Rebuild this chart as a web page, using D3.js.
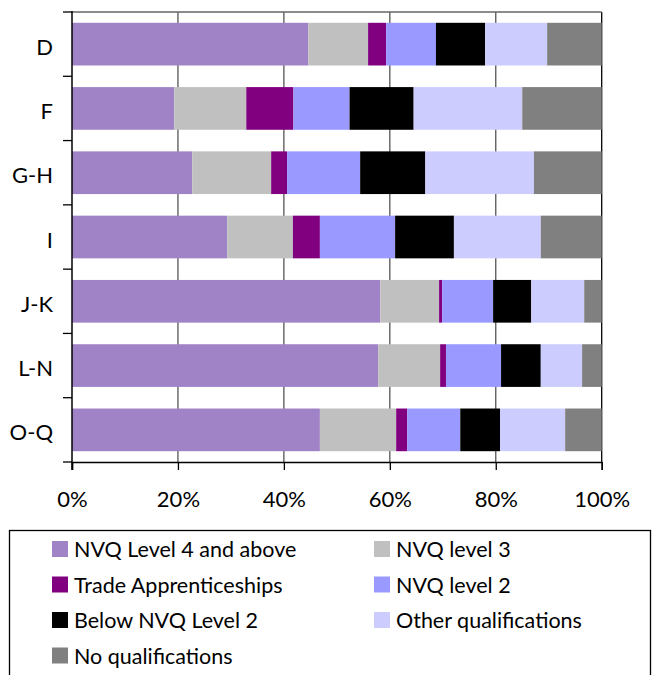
<!DOCTYPE html>
<html>
<head>
<meta charset="utf-8">
<script src="https://cdn.jsdelivr.net/npm/d3@7/dist/d3.min.js"></script>
<style>
  html, body { margin: 0; padding: 0; background: #fff; }
  svg { display: block; }
  text { font-family: Lato, "Open Sans", sans-serif; fill: #000; }
</style>
</head>
<body>
<svg id="chart" width="653" height="675"></svg>
<script>
const categories = ["D", "F", "G-H", "I", "J-K", "L-N", "O-Q"];
const seriesNames = ["NVQ Level 4 and above", "NVQ level 3", "Trade Apprenticeships", "NVQ level 2", "Below NVQ Level 2", "Other qualifications", "No qualifications"];
const seriesColors = ["#a083c7", "#c0c0c0", "#800080", "#9999ff", "#000000", "#ccccff", "#808080"];
// percentages per category, in seriesNames order
const nvq4     = [44.6, 19.3, 22.7, 29.3, 58.2, 57.8, 46.8];
const nvq3     = [11.3, 13.6, 14.9, 12.4, 11.1, 11.7, 14.4];
const trade    = [3.4, 8.9, 3.0, 5.1, 0.6, 1.1, 2.1];
const nvq2     = [9.4, 10.6, 13.8, 14.2, 9.6, 10.4, 10.0];
const belowL2  = [9.3, 12.1, 12.3, 11.1, 7.2, 7.5, 7.5];
const other    = [11.7, 20.5, 20.5, 16.4, 10.0, 7.8, 12.3];
const noQual   = [10.3, 15.0, 12.8, 11.5, 3.3, 3.7, 6.9];
const xTicks = [0, 0.2, 0.4, 0.6, 0.8, 1.0];

const seriesValues = [nvq4, nvq3, trade, nvq2, belowL2, other, noQual];
const keys = seriesNames;
const table = categories.map((c, i) => {
  const row = { cat: c };
  let tot = 0;
  seriesValues.forEach(v => tot += v[i]);
  keys.forEach((k, j) => row[k] = seriesValues[j][i] / tot);
  return row;
});

const svg = d3.select("#chart");
const pLeft = 72, pRight = 601.7, pTop = 12, pBottom = 462;

const x = d3.scaleLinear().domain([0, 1]).range([pLeft, pRight]);
const y = d3.scaleBand().domain(categories).range([pTop, pBottom]).paddingInner(0.336).paddingOuter(0.168);
const color = d3.scaleOrdinal().domain(keys).range(seriesColors);

// gridlines
svg.append("g").selectAll("line").data(xTicks.slice(1))
  .join("line")
  .attr("x1", d => x(d)).attr("x2", d => x(d))
  .attr("y1", pTop).attr("y2", pBottom)
  .attr("stroke", d => d === 1 ? "#000" : "#555").attr("stroke-width", 1.3);
// top border
svg.append("line").attr("x1", pLeft).attr("x2", pRight).attr("y1", pTop).attr("y2", pTop)
  .attr("stroke", "#666").attr("stroke-width", 1.3);

// bars
const stack = d3.stack().keys(keys)(table);
svg.append("g").selectAll("g").data(stack).join("g")
  .attr("fill", d => color(d.key))
  .selectAll("rect").data(d => d).join("rect")
  .attr("x", d => x(d[0]))
  .attr("width", d => x(d[1]) - x(d[0]))
  .attr("y", d => y(d.data.cat))
  .attr("height", y.bandwidth());

// y axis
const step = y.step();
const boundaries = d3.range(categories.length + 1).map(i => pTop + i * step);
const yg = svg.append("g");
yg.append("line").attr("x1", pLeft).attr("x2", pLeft).attr("y1", pTop - 1).attr("y2", pBottom + 8)
  .attr("stroke", "#000").attr("stroke-width", 1.5);
yg.selectAll("line.tick").data(boundaries).join("line").attr("class", "tick")
  .attr("x1", pLeft - 9).attr("x2", pLeft).attr("y1", d => d).attr("y2", d => d)
  .attr("stroke", "#000").attr("stroke-width", 1.3);
yg.selectAll("text").data(categories).join("text")
  .attr("x", pLeft - 19)
  .attr("y", d => y(d) + y.bandwidth() / 2 + 2)
  .attr("text-anchor", "end")
  .attr("dominant-baseline", "central")
  .attr("font-size", 22)
  .text(d => d);

// x axis
const xAxis = d3.axisBottom(x).tickValues(xTicks).tickFormat(d3.format(".0%")).tickSize(8).tickPadding(21);
const xg = svg.append("g").attr("transform", `translate(0,${pBottom})`).call(xAxis);
xg.select(".domain").attr("stroke", "#000").attr("stroke-width", 1.5);
xg.selectAll(".tick line").attr("stroke", "#000").attr("stroke-width", 1.3);
xg.selectAll(".tick text").attr("font-size", 22).attr("font-family", null).style("fill", "#000");

// legend
svg.append("rect").attr("x", 9.5).attr("y", 530.5).attr("width", 641).attr("height", 170)
  .attr("fill", "none").attr("stroke", "#000").attr("stroke-width", 1.3);
const colX = [52, 374];
const rowY0 = 549, rowStep = 35.5;
const lg = svg.append("g").selectAll("g").data(keys).join("g")
  .attr("transform", (d, i) => `translate(${colX[i % 2]},${rowY0 + Math.floor(i / 2) * rowStep})`);
lg.append("rect").attr("x", 0).attr("y", -8).attr("width", 16).attr("height", 16).attr("fill", d => color(d));
lg.append("text").attr("x", 22).attr("y", 0).attr("dominant-baseline", "central")
  .attr("font-size", 21.5).text(d => d);
</script>
</body>
</html>
